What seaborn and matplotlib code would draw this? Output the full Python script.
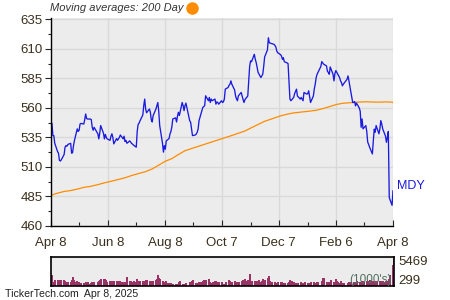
import numpy as np
import pandas as pd
import matplotlib
matplotlib.use("Agg")
import matplotlib.pyplot as plt
import matplotlib.dates as mdates
import seaborn as sns

# ---------------- data ----------------
holidays = ["2024-05-27", "2024-06-19", "2024-07-04", "2024-09-02", "2024-11-28",
            "2024-12-25", "2025-01-01", "2025-01-09", "2025-01-20", "2025-02-17"]
start_date = "2024-04-08"
end_date = "2025-04-08"

prices = [
    547, 547, 536.5, 536.5, 530, 523, 521.6, 515.5, 515, 516,
    520.5, 526.7, 528, 527.5, 529, 530, 521.6, 522, 528, 532.3,
    542.2, 540, 541, 546.3, 546.8, 546.3, 550, 554.8, 551, 550.5,
    550.5, 550, 543.5, 541, 543.5, 538, 533.7, 538.5, 545, 538.5,
    533.7, 537.5, 535, 533.7, 532.5, 536, 538, 535, 529.5, 534,
    532.5, 535, 537, 533.7, 536, 531.5, 532.5, 530, 532, 531,
    530, 528.5, 526.7, 540, 546, 547, 549, 554, 562, 567.4,
    559, 555.8, 559, 556.6, 550, 548, 553.4, 559, 561.8, 564.5,
    557, 545, 530, 522.5, 528, 525, 532, 534, 538, 540,
    544, 550.6, 551.5, 548, 553, 556.2, 553.5, 564.5, 561.8, 557.6,
    561.8, 564, 549.2, 547.8, 542, 536.5, 537, 537.8, 539.3, 542,
    549.2, 557.6, 560.3, 561, 561.8, 570.2, 566, 568.8, 564.5, 567.4,
    566, 567.4, 563.1, 565, 564.5, 563.1, 566, 564.5, 565, 567.4,
    575.8, 577.2, 579, 580, 582.8, 580, 575, 570, 567.5, 566,
    570.2, 573, 570, 567, 564.5, 567, 570, 582, 595, 599.7,
    599, 605.3, 601.1, 598.3, 594, 590, 585.6, 587, 588.4, 595,
    603, 609, 619.3, 615, 614.5, 613.7, 612.8, 611.4, 608, 606.6,
    605, 603.8, 601, 602.4, 599, 598, 597.4, 583, 567.4, 566,
    568.8, 572, 575.8, 570, 567.4, 568.8, 566, 573, 571.6, 572,
    574.4, 564.5, 570, 576, 580, 585.6, 588.4, 595, 599.1, 598,
    596.9, 595.5, 591, 589.9, 588.4, 594.6, 588.4, 582.8, 589, 591.5,
    590, 585.6, 582.8, 581.4, 578.6, 580, 584.2, 587, 582.8, 578,
    564.5, 564.5, 565.3, 561.6, 564, 559.9, 557.1, 543.5, 550.6, 542.2,
    545, 540, 531, 529, 526.7, 521, 532.3, 542, 539.3, 545,
    538, 542.2, 549.2, 546.3, 542.2, 536, 530.8, 535, 540, 484,
    477.5, 490,
]

ma_index = list(range(0, 251, 5)) + [251]
ma_values = [
    486, 487.8, 489.2, 490, 491.2, 492.7, 493.5, 495, 496.5, 497.8,
    499.2, 500.8, 502.7, 504.5, 506, 508.3, 511.5, 514.8, 517, 520.5,
    523.7, 525.8, 527.6, 529.4, 531.2, 533, 534.8, 536.6, 538.5, 540.4,
    543.2, 545.9, 548.6, 551.3, 553.2, 554.6, 555.7, 556.4, 557.1, 557.9,
    559.5, 561.2, 562.9, 563.9, 564.5, 564.9, 565.1, 564.9, 564.8, 565.0,
    564.8, 564.4,
]

volumes = [
    640, 1900, 700, 650, 1100, 900, 950, 960, 900, 960,
    980, 900, 700, 650, 600, 700, 1050, 1600, 1000, 700,
    900, 650, 600, 450, 400, 420, 450, 700, 750, 700,
    350, 500, 650, 700, 650, 700, 800, 1000, 1200, 1300,
    1250, 1050, 900, 750, 800, 900, 850, 900, 800, 850,
    900, 800, 700, 650, 700, 720, 650, 1600, 900, 850,
    700, 820, 700, 1300, 800, 750, 800, 850, 800, 900,
    950, 1000, 900, 850, 780, 850, 900, 1100, 1300, 1950,
    1500, 1300, 900, 700, 750, 800, 510, 520, 500, 400,
    320, 350, 300, 320, 330, 700, 830, 350, 320, 330,
    320, 400, 640, 500, 900, 1000, 550, 510, 520, 320,
    600, 640, 830, 1000, 950, 1020, 1150, 700, 320, 450,
    700, 800, 830, 640, 520, 640, 600, 330, 330, 320,
    600, 1000, 900, 640, 320, 600, 830, 320, 600, 640,
    700, 830, 1020, 830, 1150, 900, 1000, 900, 2240, 830,
    850, 900, 800, 830, 900, 1020, 640, 900, 1300, 1100,
    950, 1340, 1790, 830, 700, 640, 510, 500, 520, 640,
    640, 620, 450, 450, 450, 450, 640, 1000, 500, 900,
    700, 400, 450, 500, 640, 450, 500, 640, 500, 450,
    400, 600, 640, 500, 450, 640, 700, 830, 1300, 1500,
    900, 640, 500, 640, 700, 1000, 640, 700, 1150, 800,
    640, 500, 900, 500, 450, 500, 450, 640, 700, 600,
    650, 700, 600, 750, 800, 650, 700, 900, 850, 700,
    800, 750, 900, 1000, 850, 800, 700, 650, 800, 900,
    850, 750, 800, 900, 700, 850, 900, 800, 1300, 2000,
    3800, 5469,
]

y_ticks = [460, 485, 510, 535, 560, 585, 610, 635]
x_tick_dates = ["2024-04-08", "2024-06-08", "2024-08-08", "2024-10-07",
                "2024-12-07", "2025-02-06", "2025-04-08"]
x_tick_labels = ["Apr 8", "Jun 8", "Aug 8", "Oct 7", "Dec 7", "Feb 6", "Apr 8"]
x_minor_dates = ["2024-05-08", "2024-07-08", "2024-09-07", "2024-11-07",
                 "2025-01-07", "2025-03-08"]
vol_max_label = "5469"
vol_min_label = "299"

dates = pd.bdate_range(start_date, end_date, freq="C", holidays=holidays)
df = pd.DataFrame({"date": dates, "price": prices, "volume": volumes})
ma_df = pd.DataFrame({"date": dates[ma_index], "ma": ma_values})

# ---------------- style ----------------
sns.set_style("white")
plt.rcParams["font.family"] = ["Liberation Sans", "DejaVu Sans"]
txt_col = "#3a2f1c"
blue = "#1a1ae0"
orange = "#ff8c00"
bg = "#ececec"
grid_col = "#d9d9d9"

fig = plt.figure(figsize=(4.5, 3), dpi=100)
ax = fig.add_axes([51 / 450, 1 - 226 / 300, 342 / 450, 208 / 300])
vax = fig.add_axes([51 / 450, 1 - 285.5 / 300, 343 / 450, 28.8 / 300])

ax.set_facecolor(bg)
sns.lineplot(data=ma_df, x="date", y="ma", ax=ax, color=orange, lw=0.9)
sns.lineplot(data=df, x="date", y="price", ax=ax, color=blue, lw=0.95)

xmin = pd.Timestamp(start_date)
xmax = pd.Timestamp(end_date)
ax.set_xlim(xmin, xmax)
ax.set_ylim(460, 636)
ax.set_yticks(y_ticks)
ax.set_yticklabels([str(v) for v in y_ticks])
ax.set_yticks([v + 12.5 for v in y_ticks[:-1]], minor=True)
ax.set_xticks(pd.to_datetime(x_tick_dates))
ax.set_xticklabels(x_tick_labels)
ax.set_xticks(pd.to_datetime(x_minor_dates), minor=True)
ax.set_xlabel("")
ax.set_ylabel("")
ax.grid(True, which="major", color=grid_col, lw=1.0)
ax.set_axisbelow(True)
for s in ["top", "right"]:
    ax.spines[s].set_visible(False)
for s in ["left", "bottom"]:
    ax.spines[s].set_color("black")
    ax.spines[s].set_linewidth(1.0)
ax.tick_params(axis="y", which="major", direction="out", length=4, width=0.8,
               labelsize=9.5, labelcolor=txt_col, pad=2, left=True)
ax.tick_params(axis="y", which="minor", direction="out", length=2.5, width=0.8, left=True)
ax.tick_params(axis="x", which="major", direction="in", length=4, width=0.8,
               labelsize=9.5, labelcolor=txt_col, pad=8, bottom=True)
ax.tick_params(axis="x", which="minor", direction="in", length=3, width=0.8, bottom=True)

ax.annotate("MDY", xy=(df["date"].iloc[-1], 493.5), xytext=(3, 0),
            textcoords="offset points", va="center", ha="left",
            color=blue, fontsize=9, annotation_clip=False)

# ---------------- volume ----------------
vax.set_facecolor(bg)
vax.bar(df["date"], df["volume"], width=2.2, color="#993366", linewidth=0)
vax.set_xlim(xmin, xmax)
vax.set_ylim(0, 5469)
vax.set_xticks([])
vax.set_yticks([])
for s in vax.spines.values():
    s.set_visible(True)
    s.set_color("black")
    s.set_linewidth(1.2)
vax.text(1.012, 0.80, vol_max_label, transform=vax.transAxes, va="center",
         ha="left", fontsize=9.5, color=txt_col)
vax.text(1.012, 0.14, vol_min_label, transform=vax.transAxes, va="center",
         ha="left", fontsize=9.5, color=txt_col)
vax.text(0.994, 0.18, "(1000's)", transform=vax.transAxes, va="center",
         ha="right", fontsize=8.5, color="#4f7060")

# ---------------- header / footer ----------------
fig.text(50 / 450, 1 - 8 / 300, "Moving averages: 200 Day", style="italic",
         fontsize=8, color="#333333", va="center", ha="left")
ax.plot([192 / 450], [1 - 7.5 / 300], marker="o", ms=8, color=orange,
        transform=fig.transFigure, clip_on=False, linestyle="none")
fig.text(5 / 450, 1 - 294 / 300, "TickerTech.com  Apr 8, 2025", fontsize=7.6,
         color="#222222", va="center", ha="left")

fig.savefig("out.png", dpi=100)
